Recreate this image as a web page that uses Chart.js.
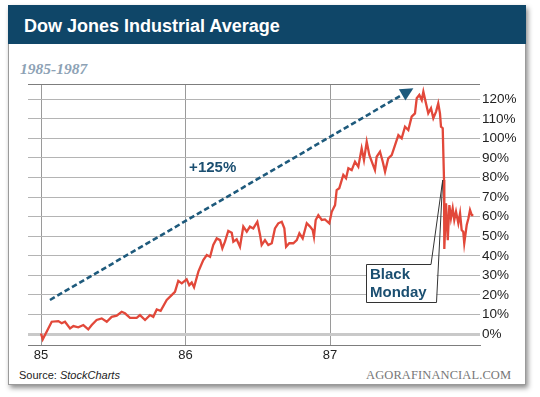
<!DOCTYPE html>
<html>
<head>
<meta charset="utf-8">
<script src="https://cdn.jsdelivr.net/npm/chart.js@4/dist/chart.umd.min.js"></script>
<style>
  html, body { margin:0; padding:0; background:#fff; }
  body { width:540px; height:397px; position:relative; overflow:hidden; font-family:"Liberation Sans", Arial, sans-serif; }
  #card { position:absolute; left:8px; top:5px; width:516px; height:378px; background:#fff; border:1px solid #9a9a9a; box-shadow:2px 3px 5px rgba(0,0,0,0.45); }
  #header { position:absolute; left:8px; top:5px; width:518px; height:39px; background:#0f4668; }
  #title { position:absolute; left:24px; top:15px; color:#fff; font-weight:bold; font-size:18px; line-height:22px; }
  #subtitle { position:absolute; left:20px; top:60px; color:#8da2b5; font-family:"Liberation Serif", serif; font-style:italic; font-weight:bold; font-size:15.5px; line-height:18px; }
  #source { position:absolute; left:19px; top:368px; color:#222; font-size:11px; line-height:14px; }
  #brand { position:absolute; left:366px; top:367px; color:#777; font-family:"Liberation Serif", serif; font-size:12.5px; line-height:16px; letter-spacing:0.1px; }
  canvas { position:absolute; left:0; top:0; }
</style>
</head>
<body>
<div id="card"></div>
<div id="header"></div>
<div id="title">Dow Jones Industrial Average</div>
<div id="subtitle">1985-1987</div>
<div id="source">Source: <i>StockCharts</i></div>
<div id="brand">AGORAFINANCIAL.COM</div>
<canvas id="c" width="540" height="397"></canvas>
<script>
// time (decimal year, 85 = Jan 1985) and gain since start (%)
const years = [
  85.000, 85.012, 85.039, 85.074, 85.120, 85.143, 85.166, 85.201, 85.224, 85.258,
  85.293, 85.327, 85.351, 85.385, 85.420, 85.455, 85.489, 85.524, 85.558, 85.581,
  85.616, 85.662, 85.685, 85.720, 85.754, 85.777, 85.801, 85.828, 85.870, 85.904,
  85.927, 85.950, 85.974, 86.008, 86.026, 86.043, 86.059, 86.089, 86.123, 86.147,
  86.170, 86.192, 86.216, 86.239, 86.255, 86.273, 86.296, 86.320, 86.331, 86.354,
  86.377, 86.400, 86.424, 86.446, 86.469, 86.497, 86.516, 86.527, 86.550, 86.573,
  86.597, 86.619, 86.642, 86.666, 86.684, 86.696, 86.718, 86.746, 86.770, 86.788,
  86.811, 86.839, 86.862, 86.880, 86.889, 86.901, 86.919, 86.943, 86.965, 86.995,
  87.012, 87.035, 87.046, 87.064, 87.081, 87.092, 87.111, 87.127, 87.150, 87.173,
  87.196, 87.219, 87.235, 87.254, 87.272, 87.289, 87.311, 87.323, 87.346, 87.365,
  87.381, 87.403, 87.427, 87.450, 87.473, 87.496, 87.519, 87.542, 87.565, 87.588,
  87.600, 87.618, 87.635, 87.646, 87.664, 87.680, 87.699, 87.715, 87.734, 87.749,
  87.761, 87.768, 87.780, 87.789, 87.791, 87.803, 87.815, 87.826, 87.837, 87.849,
  87.860, 87.872, 87.888, 87.900, 87.911, 87.922, 87.929, 87.946, 87.958, 87.969,
  87.981, 87.992
];
const gains = [
  0.3, -2.7, 1.2, 6.3, 6.6, 5.5, 6.3, 2.9, 4.1, 3.4,
  4.6, 2.4, 4.6, 7.2, 8.0, 6.3, 8.8, 9.4, 11.4, 10.6,
  8.3, 8.3, 9.7, 7.2, 9.7, 8.8, 12.6, 11.9, 17.4, 19.9,
  21.6, 27.2, 25.9, 28.0, 25.0, 26.3, 23.9, 31.9, 37.8, 40.4,
  39.5, 45.5, 48.9, 48.0, 43.8, 47.2, 52.7, 51.8, 47.2, 48.4,
  44.6, 54.9, 52.3, 54.9, 54.0, 57.4, 50.6, 45.5, 48.0, 45.5,
  46.4, 54.0, 56.6, 57.4, 54.0, 44.6, 46.4, 46.4, 48.0, 51.5,
  48.9, 56.6, 54.9, 53.2, 49.7, 58.3, 60.8, 58.3, 58.6, 56.6,
  62.5, 65.9, 73.6, 74.5, 78.7, 81.3, 79.6, 84.7, 83.8, 88.1,
  85.5, 94.9, 88.9, 98.3, 91.5, 88.1, 83.8, 90.6, 93.2, 88.1,
  83.0, 89.8, 91.5, 96.6, 101.7, 100.0, 106.0, 104.3, 111.1, 112.8,
  120.5, 122.2, 119.6, 123.9, 117.9, 112.8, 115.4, 110.3, 113.7, 117.9,
  112.8, 106.0, 105.2, 78.7, 43.5, 66.8, 48.0, 65.9, 59.2, 64.3,
  58.3, 62.5, 56.6, 61.7, 53.2, 52.3, 46.4, 55.7, 59.2, 63.4,
  60.8, 60.8
];
const xTickLabels = [85, 86, 87];
const yTickValues = [0, 10, 20, 30, 40, 50, 60, 70, 80, 90, 100, 110, 120];

// annotation anchor points (data coordinates)
const arrowFrom = { x: 85.062, y: 17.4 };
const arrowTo = { x: 87.577, y: 125.6 };
const gainLabel = { x: 86.025, y: 84.7, text: "+125%" };
const calloutTip = { x: 87.780, y: 78.7 };
const calloutBox = { x1: 87.249, x2: 87.737, y1: 36.0, y2: 16.2, notchX: 87.699 };
const calloutText = ["Black", "Monday"];

const annotate = {
  id: 'annotate',
  afterDraw(chart) {
    const { ctx, chartArea, scales: { x, y } } = chart;
    ctx.save();
    // top frame line
    ctx.strokeStyle = '#7d7d7d';
    ctx.lineWidth = 1;
    ctx.beginPath();
    ctx.moveTo(chartArea.left, chartArea.top + 0.5);
    ctx.lineTo(chartArea.right, chartArea.top + 0.5);
    ctx.stroke();

    // dashed arrow
    const ax0 = x.getPixelForValue(arrowFrom.x), ay0 = y.getPixelForValue(arrowFrom.y);
    const ax1 = x.getPixelForValue(arrowTo.x), ay1 = y.getPixelForValue(arrowTo.y);
    const ang = Math.atan2(ay1 - ay0, ax1 - ax0);
    const headLen = 13, headW = 6.5;
    const bx = ax1 - headLen * Math.cos(ang), by = ay1 - headLen * Math.sin(ang);
    ctx.strokeStyle = '#1e5a7c';
    ctx.fillStyle = '#1e5a7c';
    ctx.lineWidth = 2.6;
    ctx.setLineDash([5.5, 3]);
    ctx.beginPath();
    ctx.moveTo(ax0, ay0);
    ctx.lineTo(bx, by);
    ctx.stroke();
    ctx.setLineDash([]);
    ctx.beginPath();
    ctx.moveTo(ax1, ay1);
    ctx.lineTo(bx + headW * Math.sin(ang), by - headW * Math.cos(ang));
    ctx.lineTo(bx - headW * Math.sin(ang), by + headW * Math.cos(ang));
    ctx.closePath();
    ctx.fill();

    // +125% label
    ctx.fillStyle = '#1b4f71';
    ctx.font = 'bold 15px "Liberation Sans", Arial, sans-serif';
    ctx.textBaseline = 'middle';
    ctx.textAlign = 'left';
    ctx.fillText(gainLabel.text, x.getPixelForValue(gainLabel.x), y.getPixelForValue(gainLabel.y));

    // Black Monday callout
    const l = x.getPixelForValue(calloutBox.x1), r = x.getPixelForValue(calloutBox.x2);
    const t = y.getPixelForValue(calloutBox.y1), b = y.getPixelForValue(calloutBox.y2);
    const n = x.getPixelForValue(calloutBox.notchX);
    const tx = x.getPixelForValue(calloutTip.x), ty = y.getPixelForValue(calloutTip.y);
    ctx.fillStyle = '#fff';
    ctx.fillRect(l, t, r - l, b - t);
    ctx.strokeStyle = '#333';
    ctx.lineWidth = 1;
    ctx.beginPath();
    ctx.moveTo(Math.round(l) + 0.5, Math.round(t) + 0.5);
    ctx.lineTo(n, Math.round(t) + 0.5);
    ctx.lineTo(tx, ty);
    ctx.lineTo(r, Math.round(b) + 0.5);
    ctx.lineTo(Math.round(l) + 0.5, Math.round(b) + 0.5);
    ctx.closePath();
    ctx.stroke();
    ctx.fillStyle = '#1b4f71';
    ctx.font = 'bold 15px "Liberation Sans", Arial, sans-serif';
    ctx.fillText(calloutText[0], l + 4, t + 11);
    ctx.fillText(calloutText[1], l + 4, t + 29);
    ctx.restore();
  }
};

new Chart(document.getElementById('c'), {
  type: 'line',
  data: {
    datasets: [{
      data: years.map((v, i) => ({ x: v, y: gains[i] })),
      borderColor: '#e2483a',
      borderWidth: 2.3,
      pointRadius: 0,
      tension: 0,
      fill: false
    }]
  },
  options: {
    responsive: false,
    animation: false,
    devicePixelRatio: 1,
    layout: { padding: { left: 28, top: 84, right: 15, bottom: 30 } },
    plugins: { legend: { display: false }, tooltip: { enabled: false } },
    scales: {
      x: {
        type: 'linear',
        min: 84.91,
        max: 88.038,
        afterBuildTicks: s => { s.ticks = xTickLabels.map(v => ({ value: v })); },
        afterFit: s => { s.height = 22; },
        grid: { color: '#9a9a9a', lineWidth: 1, drawTicks: false },
        border: { display: true, color: '#7d7d7d', width: 1 },
        ticks: { color: '#222', padding: 3, font: { size: 13, family: '"Liberation Sans", Arial, sans-serif' }, callback: v => String(v), maxRotation: 0 }
      },
      y: {
        position: 'right',
        min: -5.6,
        max: 127.8,
        afterBuildTicks: s => { s.ticks = yTickValues.map(v => ({ value: v })); },
        afterFit: s => { s.width = 45; },
        grid: {
          drawTicks: false,
          color: c => c.tick && c.tick.value === 0 ? '#c9c9c9' : '#b4b4b4',
          lineWidth: c => c.tick && c.tick.value === 0 ? 3 : 1
        },
        border: { display: false },
        ticks: { color: '#222', padding: 2, font: { size: 13.5, family: '"Liberation Sans", Arial, sans-serif' }, callback: v => v + '%' }
      }
    }
  },
  plugins: [annotate]
});
</script>
</body>
</html>
